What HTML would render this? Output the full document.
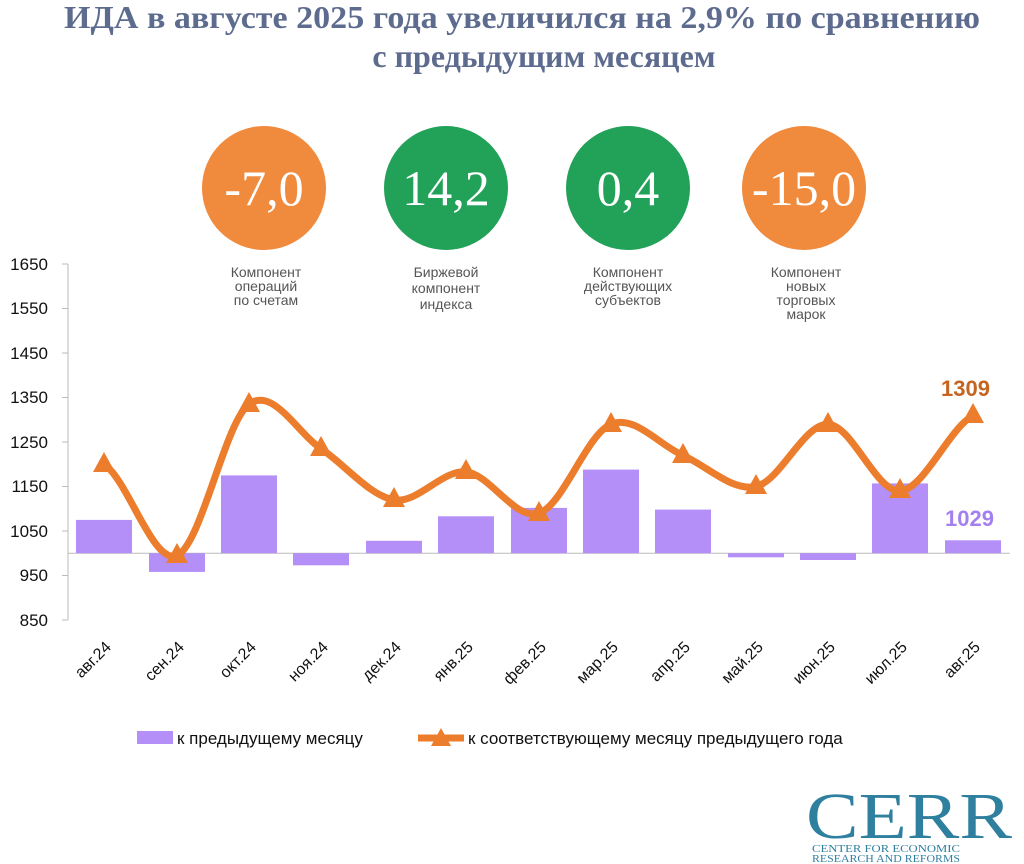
<!DOCTYPE html>
<html><head><meta charset="utf-8"><style>
body{margin:0;background:#fff;width:1024px;height:864px;overflow:hidden}
svg{display:block}
</style></head><body>
<svg width="1024" height="864" viewBox="0 0 1024 864" xmlns="http://www.w3.org/2000/svg">
<g font-family="Liberation Serif, serif" font-weight="bold" font-size="32" fill="#5d6b8e" text-anchor="middle">
<text x="522" y="28" textLength="916" lengthAdjust="spacingAndGlyphs">ИДА в августе 2025 года увеличился на 2,9% по сравнению</text>
<text x="544" y="67">с предыдущим месяцем</text>
</g>
<g font-family="Liberation Serif, serif" font-size="50" fill="#fff" text-anchor="middle">
<circle cx="264" cy="188" r="62" fill="#f08a3c"/><text x="264" y="205">-7,0</text>
<circle cx="446" cy="188" r="62" fill="#22a159"/><text x="446" y="205">14,2</text>
<circle cx="628" cy="188" r="62" fill="#22a159"/><text x="628" y="205">0,4</text>
<circle cx="804" cy="188" r="62" fill="#f08a3c"/><text x="804" y="205">-15,0</text>
</g>
<g font-family="Liberation Sans Narrow, Liberation Sans, sans-serif" font-size="14" fill="#555" text-anchor="middle">
<text x="266" y="277">Компонент</text><text x="266" y="291">операций</text><text x="266" y="305">по счетам</text>
<text x="446" y="277">Биржевой</text><text x="446" y="293">компонент</text><text x="446" y="309">индекса</text>
<text x="628" y="277">Компонент</text><text x="628" y="291">действующих</text><text x="628" y="305">субъектов</text>
<text x="806" y="277">Компонент</text><text x="806" y="291">новых</text><text x="806" y="305">торговых</text><text x="806" y="319">марок</text>
</g>
<g stroke="#bbb" stroke-width="1">
<line x1="68" y1="264" x2="68" y2="620"/>
<line x1="62" y1="264" x2="68" y2="264"/><line x1="62" y1="308.5" x2="68" y2="308.5"/><line x1="62" y1="353" x2="68" y2="353"/><line x1="62" y1="397.5" x2="68" y2="397.5"/><line x1="62" y1="442" x2="68" y2="442"/><line x1="62" y1="486.5" x2="68" y2="486.5"/><line x1="62" y1="531" x2="68" y2="531"/><line x1="62" y1="575.5" x2="68" y2="575.5"/><line x1="62" y1="620" x2="68" y2="620"/>
<line x1="68" y1="553.2" x2="1010" y2="553.2"/>
</g>
<g font-family="Liberation Sans, sans-serif" font-size="17" fill="#111" text-anchor="end">
<text x="48" y="270">1650</text><text x="48" y="314">1550</text><text x="48" y="359">1450</text><text x="48" y="403">1350</text><text x="48" y="448">1250</text><text x="48" y="492">1150</text><text x="48" y="537">1050</text><text x="48" y="581">950</text><text x="48" y="626">850</text>
</g>
<g fill="#b38ff7">
<rect x="76" y="519.9" width="56" height="33.3"/>
<rect x="149" y="553.2" width="56" height="18.7"/>
<rect x="221" y="475.4" width="56" height="77.8"/>
<rect x="293" y="553.2" width="56" height="12.1"/>
<rect x="366" y="540.8" width="56" height="12.4"/>
<rect x="438" y="516.3" width="56" height="36.9"/>
<rect x="511" y="507.9" width="56" height="45.3"/>
<rect x="583" y="469.6" width="56" height="83.6"/>
<rect x="655" y="509.6" width="56" height="43.6"/>
<rect x="728" y="553.2" width="56" height="4.1"/>
<rect x="800" y="553.2" width="56" height="6.8"/>
<rect x="872" y="483.4" width="56" height="69.8"/>
<rect x="945" y="540.3" width="56" height="12.9"/>
</g>
<path d="M104,464.3 C128,479.5 153,565.5 177,555.5 C201,545.5 225,422 249,404.2 C273,386.4 297,432.7 321,448.7 C345,464.7 370,496 394,499.9 C418,503.8 442,469.6 466,471.8 C490,474 515,521.1 539,513.2 C563,505.3 587,433.8 611,424.2 C635,414.6 659,445 683,455.4 C707,465.8 732,491.7 756,486.5 C780,481.3 804,423.5 828,424.2 C852,424.9 876,492.3 900,490.9 C924,489.5 949,428.2 973,415.7" fill="none" stroke="#ec7d2d" stroke-width="7" stroke-linecap="round"/>
<g fill="#ec7d2d">
<path d="M104,452 l11,20 h-22z"/><path d="M177,543 l11,20 h-22z"/><path d="M249,392 l11,20 h-22z"/><path d="M321,436 l11,20 h-22z"/><path d="M394,487 l11,20 h-22z"/><path d="M466,459 l11,20 h-22z"/><path d="M539,501 l11,20 h-22z"/><path d="M611,412 l11,20 h-22z"/><path d="M683,443 l11,20 h-22z"/><path d="M756,474 l11,20 h-22z"/><path d="M828,412 l11,20 h-22z"/><path d="M900,478 l11,20 h-22z"/><path d="M973,403 l11,20 h-22z"/>
</g>
<g font-family="Liberation Sans, sans-serif" font-weight="bold" font-size="22">
<text x="941" y="396" fill="#c5651f">1309</text>
<text x="945" y="526" fill="#a47ff0">1029</text>
</g>
<g font-family="Liberation Sans, sans-serif" font-size="16" fill="#111" text-anchor="end">
<text transform="translate(112,648) rotate(-45)">авг.24</text>
<text transform="translate(185,648) rotate(-45)">сен.24</text>
<text transform="translate(257,648) rotate(-45)">окт.24</text>
<text transform="translate(329,648) rotate(-45)">ноя.24</text>
<text transform="translate(402,648) rotate(-45)">дек.24</text>
<text transform="translate(474,648) rotate(-45)">янв.25</text>
<text transform="translate(547,648) rotate(-45)">фев.25</text>
<text transform="translate(619,648) rotate(-45)">мар.25</text>
<text transform="translate(691,648) rotate(-45)">апр.25</text>
<text transform="translate(764,648) rotate(-45)">май.25</text>
<text transform="translate(836,648) rotate(-45)">июн.25</text>
<text transform="translate(908,648) rotate(-45)">июл.25</text>
<text transform="translate(981,648) rotate(-45)">авг.25</text>
</g>
<rect x="137" y="731" width="36" height="13" fill="#b38ff7"/>
<line x1="418" y1="738" x2="464" y2="738" stroke="#ec7d2d" stroke-width="7"/>
<path d="M441,728 l10,18 h-20z" fill="#ec7d2d"/>
<g font-family="Liberation Sans, sans-serif" font-size="17" fill="#111">
<text x="177" y="744">к предыдущему месяцу</text>
<text x="468" y="744">к соответствующему месяцу предыдущего года</text>
</g>
<g fill="#2f7f9f" font-family="Liberation Serif, serif">
<text x="806" y="838" font-size="66" textLength="206" lengthAdjust="spacingAndGlyphs">CERR</text>
<text x="812" y="852" font-size="10" textLength="148" lengthAdjust="spacingAndGlyphs">CENTER FOR ECONOMIC</text>
<text x="812" y="862" font-size="10" textLength="148" lengthAdjust="spacingAndGlyphs">RESEARCH AND REFORMS</text>
</g>
</svg>
</body></html>
